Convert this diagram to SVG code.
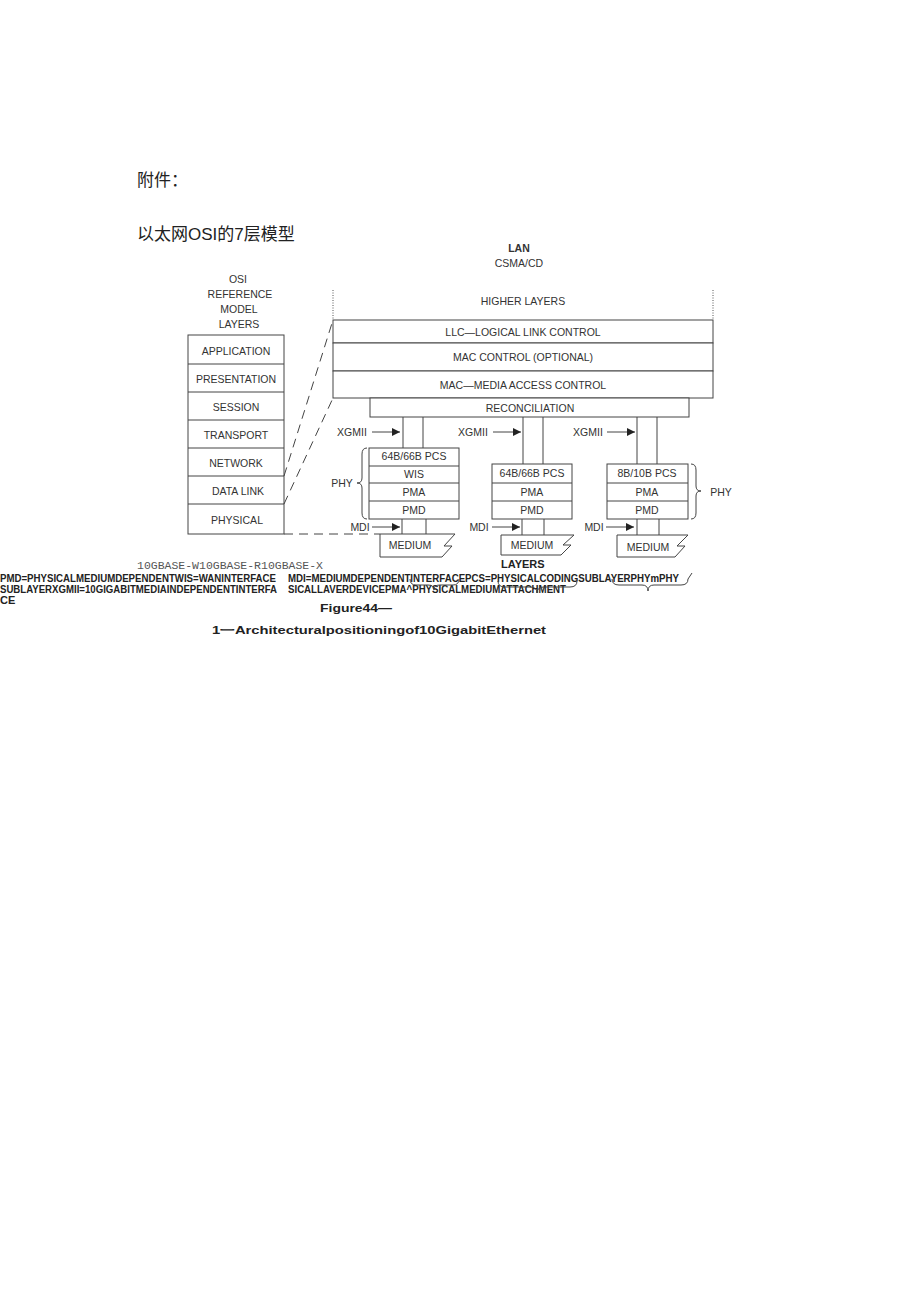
<svg xmlns="http://www.w3.org/2000/svg" width="920" height="1303" viewBox="0 0 920 1303">
<style>
.t{font-family:"Liberation Sans",Arial,sans-serif;font-size:10.5px;fill:#333;text-anchor:middle}
.b{fill:#fff;stroke:#444;stroke-width:1}
.ln{stroke:#444;stroke-width:1;fill:none}
.dash{stroke:#444;stroke-width:1;fill:none;stroke-dasharray:9,6}
.bt{font-family:"Liberation Sans",Arial,sans-serif;font-weight:bold;font-size:11px;fill:#222}
.cj{font-family:"Liberation Sans","Noto Sans CJK SC",sans-serif;fill:#222}
</style>
<defs>
<marker id="ah" viewBox="0 0 10 10" refX="10" refY="5" markerWidth="8" markerHeight="8" markerUnits="userSpaceOnUse" orient="auto">
<path d="M0,0 L10,5 L0,10 Z" fill="#222"/>
</marker>
</defs>
<rect width="920" height="1303" fill="#fff"/>

<g id="heading">
<text class="cj" x="137" y="186" font-size="17">附件：</text>
<text class="cj" x="137" y="240" font-size="17">以太网OSI的7层模型</text>
</g>

<g id="lan-label">
<text class="t" x="519" y="252" font-weight="bold" font-size="10">LAN</text>
<text class="t" x="519" y="267" font-size="10">CSMA/CD</text>
</g>

<g id="osi-label">
<text class="t" x="238" y="283" font-size="9.5">OSI</text>
<text class="t" x="240" y="298">REFERENCE</text>
<text class="t" x="239" y="313">MODEL</text>
<text class="t" x="239" y="328">LAYERS</text>
</g>

<g id="osi-stack">
<rect class="b" x="188" y="335" width="96" height="199"/>
<line class="ln" x1="188" y1="364" x2="284" y2="364"/>
<line class="ln" x1="188" y1="392" x2="284" y2="392"/>
<line class="ln" x1="188" y1="420" x2="284" y2="420"/>
<line class="ln" x1="188" y1="448" x2="284" y2="448"/>
<line class="ln" x1="188" y1="476" x2="284" y2="476"/>
<line class="ln" x1="188" y1="504" x2="284" y2="504"/>
<text class="t" x="236" y="355">APPLICATION</text>
<text class="t" x="236" y="383">PRESENTATION</text>
<text class="t" x="236" y="411">SESSION</text>
<text class="t" x="236" y="439">TRANSPORT</text>
<text class="t" x="236" y="467">NETWORK</text>
<text class="t" x="238" y="495">DATA LINK</text>
<text class="t" x="237" y="524">PHYSICAL</text>
</g>

<g id="higher-layers">
<line x1="333" y1="290" x2="333" y2="320" stroke="#555" stroke-width="1" stroke-dasharray="1,1.5"/>
<line x1="713" y1="290" x2="713" y2="320" stroke="#555" stroke-width="1" stroke-dasharray="1,1.5"/>
<text class="t" x="523" y="305">HIGHER LAYERS</text>
</g>

<g id="llc">
<rect class="b" x="333" y="320" width="380" height="23"/>
<text class="t" x="523" y="336">LLC—LOGICAL LINK CONTROL</text>
</g>
<g id="mac-control">
<rect class="b" x="333" y="343" width="380" height="28"/>
<text class="t" x="523" y="361">MAC CONTROL (OPTIONAL)</text>
</g>
<g id="mac">
<rect class="b" x="333" y="371" width="380" height="27"/>
<text class="t" x="523" y="389">MAC—MEDIA ACCESS CONTROL</text>
</g>
<g id="reconciliation">
<rect class="b" x="370" y="398" width="319" height="19"/>
<text class="t" x="530" y="412">RECONCILIATION</text>
</g>

<g id="connectors">
<line class="dash" x1="284" y1="476" x2="333" y2="320"/>
<line class="dash" x1="284" y1="504" x2="333" y2="398"/>
<line class="dash" x1="284" y1="534" x2="380" y2="534"/>
<line class="ln" x1="403" y1="417" x2="403" y2="448"/>
<line class="ln" x1="423" y1="417" x2="423" y2="448"/>
<line class="ln" x1="523" y1="417" x2="523" y2="464"/>
<line class="ln" x1="543" y1="417" x2="543" y2="464"/>
<line class="ln" x1="637" y1="417" x2="637" y2="464"/>
<line class="ln" x1="657" y1="417" x2="657" y2="464"/>
<line class="ln" x1="402" y1="519" x2="402" y2="534"/>
<line class="ln" x1="426" y1="519" x2="426" y2="534"/>
<line class="ln" x1="522" y1="519" x2="522" y2="535"/>
<line class="ln" x1="544" y1="519" x2="544" y2="535"/>
<line class="ln" x1="637" y1="519" x2="637" y2="535"/>
<line class="ln" x1="659" y1="519" x2="659" y2="535"/>
<line class="ln" x1="372" y1="432" x2="400" y2="432" marker-end="url(#ah)"/>
<line class="ln" x1="493" y1="432" x2="521" y2="432" marker-end="url(#ah)"/>
<line class="ln" x1="607" y1="432" x2="635" y2="432" marker-end="url(#ah)"/>
<line class="ln" x1="372" y1="527" x2="400" y2="527" marker-end="url(#ah)"/>
<line class="ln" x1="492" y1="527" x2="520" y2="527" marker-end="url(#ah)"/>
<line class="ln" x1="606" y1="527" x2="634" y2="527" marker-end="url(#ah)"/>
</g>

<g id="xgmii-labels">
<text class="t" x="352" y="436">XGMII</text>
<text class="t" x="473" y="436">XGMII</text>
<text class="t" x="588" y="436">XGMII</text>
<text class="t" x="360" y="531">MDI</text>
<text class="t" x="479" y="531">MDI</text>
<text class="t" x="594" y="531">MDI</text>
</g>

<g id="phy-10gbase-w">
<rect class="b" x="369" y="448" width="90" height="71"/>
<line class="ln" x1="369" y1="466" x2="459" y2="466"/>
<line class="ln" x1="369" y1="483" x2="459" y2="483"/>
<line class="ln" x1="369" y1="501" x2="459" y2="501"/>
<text class="t" x="414" y="460">64B/66B PCS</text>
<text class="t" x="414" y="478">WIS</text>
<text class="t" x="414" y="496">PMA</text>
<text class="t" x="414" y="514">PMD</text>
<path class="ln" d="M367,448 Q362,448 362,454 V478 Q362,483 357,483 Q362,483 362,488 V513 Q362,519 367,519"/>
<text class="t" x="342" y="487">PHY</text>
</g>

<g id="phy-10gbase-r">
<rect class="b" x="492" y="464" width="80" height="55"/>
<line class="ln" x1="492" y1="483" x2="572" y2="483"/>
<line class="ln" x1="492" y1="501" x2="572" y2="501"/>
<text class="t" x="532" y="477">64B/66B PCS</text>
<text class="t" x="532" y="496">PMA</text>
<text class="t" x="532" y="514">PMD</text>
</g>

<g id="phy-10gbase-x">
<rect class="b" x="607" y="464" width="81" height="55"/>
<line class="ln" x1="607" y1="483" x2="688" y2="483"/>
<line class="ln" x1="607" y1="501" x2="688" y2="501"/>
<text class="t" x="647" y="477">8B/10B PCS</text>
<text class="t" x="647" y="496">PMA</text>
<text class="t" x="647" y="514">PMD</text>
<path class="ln" d="M691,464 Q696,464 696,470 V486 Q696,491 701,491 Q696,491 696,496 V513 Q696,519 691,519"/>
<text class="t" x="721" y="496">PHY</text>
</g>

<g id="medium-1">
<path class="ln" d="M380,534 H455 L444,546 H452 L442,557 H380 Z"/>
<text class="t" x="410" y="549">MEDIUM</text>
</g>
<g id="medium-2">
<path class="ln" d="M501,535 H574 L563,545 H571 L561,555 H501 Z"/>
<text class="t" x="532" y="549">MEDIUM</text>
</g>
<g id="medium-3">
<path class="ln" d="M617,535 H688 L677,546 H685 L675,557 H617 Z"/>
<text class="t" x="648" y="551">MEDIUM</text>
</g>

<g id="notes">
<text x="137" y="569" font-family="Liberation Mono,monospace" font-size="10.5" fill="#555" textLength="186" lengthAdjust="spacingAndGlyphs">10GBASE-W10GBASE-R10GBASE-X</text>
<text class="bt" x="501" y="568" font-size="10">LAYERS</text>
<text class="bt" x="0" y="582" textLength="276" lengthAdjust="spacingAndGlyphs">PMD=PHYSICALMEDIUMDEPENDENTWIS=WANINTERFACE</text>
<text class="bt" x="0" y="593" textLength="277" lengthAdjust="spacingAndGlyphs">SUBLAYERXGMII=10GIGABITMEDIAINDEPENDENTINTERFA</text>
<text class="bt" x="0" y="604">CE</text>
<text class="bt" x="288" y="582" textLength="391" lengthAdjust="spacingAndGlyphs">MDI=MEDIUMDEPENDENTINTERFACEPCS=PHYSICALCODINGSUBLAYERPHYmPHY</text>
<text class="bt" x="288" y="593" textLength="278" lengthAdjust="spacingAndGlyphs">SICALLAVERDEVICEPMA^PHYSICALMEDIUMATTACHMENT</text>
<path class="ln" d="M410,579 Q410,585 416,585 H428 Q434,585 434,590 Q434,585 440,585 H453 Q459,585 459,579"/>
<path class="ln" d="M498,581 Q498,587 505,587 H530 Q537,587 537,593 Q537,587 544,587 H570 Q577,587 577,581"/>
<path class="ln" d="M612,579 Q612,585 619,585 H642 Q648,585 648,591 Q648,585 654,585 H681 Q688,585 688,579 L692,573"/>
</g>

<g id="caption">
<text class="bt" x="320" y="612" font-size="14.5" textLength="72" lengthAdjust="spacingAndGlyphs">Figure44—</text>
<text class="bt" x="212" y="634" font-size="15" textLength="334" lengthAdjust="spacingAndGlyphs">1一Architecturalpositioningof10GigabitEthernet</text>
</g>
</svg>
